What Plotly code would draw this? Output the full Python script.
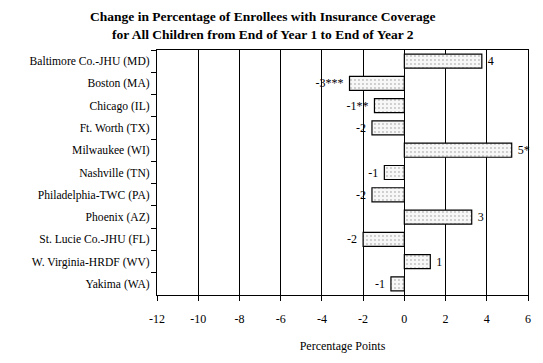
import plotly.graph_objects as go

sites = ["Baltimore Co.-JHU (MD)", "Boston (MA)", "Chicago (IL)", "Ft. Worth (TX)",
         "Milwaukee (WI)", "Nashville (TN)", "Philadelphia-TWC (PA)", "Phoenix (AZ)",
         "St. Lucie Co.-JHU (FL)", "W. Virginia-HRDF (WV)", "Yakima (WA)"]
values = [3.76, -2.66, -1.45, -1.57, 5.21, -0.97, -1.57, 3.27, -2.0, 1.26, -0.65]
labels = ["4", "-3***", "-1**", "-2", "5*", "-1", "-2", "3", "-2", "1", "-1"]
xticks = [-12, -10, -8, -6, -4, -2, 0, 2, 4, 6]
title_lines = ["Change in Percentage of Enrollees with Insurance Coverage",
               "for All Children from End of Year 1 to End of Year 2"]

font = "Liberation Serif, Times New Roman, serif"

nb = "\u00a0"
padded = [(nb + t) if v >= 0 else (t + nb) for t, v in zip(labels, values)]

fig = go.Figure(go.Bar(
    y=sites, x=values, orientation="h", width=0.63,
    text=padded, textposition="outside", cliponaxis=False,
    textfont=dict(family=font, size=12, color="black"),
    marker=dict(color="white", line=dict(color="black", width=1.2),
                pattern=dict(shape=".", fgcolor="#8a8a8a", bgcolor="#f7f7f7",
                             size=4, solidity=0.18)),
    hoverinfo="skip",
))

fig.add_annotation(
    text="<b>" + "<br>".join(title_lines) + "</b>",
    xref="paper", yref="paper", x=(262.5 - 157) / 371, y=1.0,
    xanchor="center", yanchor="bottom", yshift=6, showarrow=False,
    font=dict(family=font, size=13.5, color="black"), align="center",
)

fig.update_layout(
    width=543, height=363,
    margin=dict(l=157, r=15, t=50, b=65),
    paper_bgcolor="white", plot_bgcolor="white",
    font=dict(family=font, size=12, color="black"),
    showlegend=False,
    xaxis=dict(range=[-12, 6], tickvals=xticks, ticktext=[str(v) for v in xticks],
               showgrid=True, gridcolor="black", gridwidth=1,
               zeroline=True, zerolinecolor="black", zerolinewidth=1,
               showline=True, linecolor="black", linewidth=1, mirror=True,
               ticks="outside", ticklen=5, tickcolor="black",
               ticklabelstandoff=8,
               title=dict(text="Percentage Points", standoff=16,
                          font=dict(family=font, size=12))),
    yaxis=dict(categoryorder="array", categoryarray=sites, autorange="reversed",
               showline=True, linecolor="black", linewidth=1, mirror=True,
               ticks="outside", ticklen=5, tickcolor="black", tickson="boundaries",
               showgrid=False, ticklabelstandoff=4,
               tickfont=dict(family=font, size=11.6)),
)

fig.write_html("out.html", config={"displayModeBar": False},
               post_script="document.body.style.margin='0';")
